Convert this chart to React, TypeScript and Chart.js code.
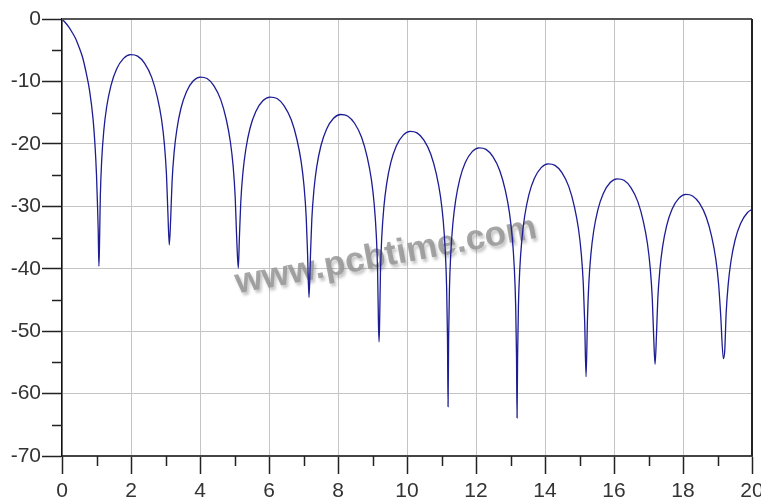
import React, { useEffect, useRef } from "react";
import { Chart, registerables } from "chart.js";

Chart.register(...registerables);

// x values (frequency axis, 0..20)
const FREQ: number[] = [
  0, 0.1, 0.2, 0.3, 0.4, 0.5, 0.6, 0.7, 0.8, 0.9, 0.96, 1.0, 1.03, 1.05, 1.07,
  1.086, 1.111, 1.152, 1.213, 1.294, 1.417, 1.58, 1.784, 1.988, 2.192, 2.396, 2.6, 2.763, 2.886, 2.967, 3.028, 3.069,
  3.11,
  3.15, 3.19, 3.249, 3.329, 3.448, 3.608, 3.807, 4.006, 4.205, 4.404, 4.603, 4.762, 4.881, 4.961, 5.02, 5.06,
  5.11,
  5.141, 5.182, 5.244, 5.327, 5.45, 5.615, 5.821, 6.027, 6.233, 6.439, 6.645, 6.81, 6.933, 7.016, 7.078, 7.119,
  7.16,
  7.201, 7.241, 7.302, 7.383, 7.505, 7.668, 7.871, 8.074, 8.277, 8.48, 8.683, 8.845, 8.967, 9.048, 9.109, 9.149, 9.172,
  9.19,
  9.206, 9.23, 9.27, 9.33, 9.41, 9.53, 9.69, 9.89, 10.09, 10.29, 10.49, 10.69, 10.85, 10.97, 11.05, 11.11, 11.15, 11.174,
  11.19,
  11.206, 11.23, 11.27, 11.33, 11.41, 11.53, 11.69, 11.89, 12.09, 12.29, 12.49, 12.69, 12.85, 12.97, 13.05, 13.11, 13.15, 13.174,
  13.19,
  13.206, 13.23, 13.27, 13.33, 13.41, 13.53, 13.69, 13.89, 14.09, 14.29, 14.49, 14.69, 14.85, 14.97, 15.05, 15.11, 15.15,
  15.19,
  15.23, 15.27, 15.33, 15.41, 15.53, 15.69, 15.89, 16.09, 16.29, 16.49, 16.69, 16.85, 16.97, 17.05, 17.11, 17.15,
  17.19,
  17.23, 17.269, 17.329, 17.408, 17.527, 17.685, 17.883, 18.081, 18.279, 18.477, 18.675, 18.833, 18.952, 19.031, 19.091,
  19.17,
  19.21, 19.25, 19.31, 19.39, 19.51, 19.67, 19.87, 20.0,
];

// y values (level in dB)
const LEVEL_DB: number[] = [
  0, -0.6, -1.3, -2.2, -3.2, -4.6, -6.2, -8.6, -11.5, -16, -20.5, -25, -30, -34, -39.6,
  -36.4, -28.4, -22.5, -17.8, -14.1, -10.7, -8.05, -6.3, -5.7, -5.94, -7.1, -9.35, -12.5, -16.1, -20.0, -24.9, -31.0,
  -36.2,
  -32.0, -26.1, -21.4, -17.7, -14.3, -11.65, -9.9, -9.3, -9.54, -10.7, -12.95, -16.1, -19.7, -23.6, -28.5, -34.6,
  -39.9,
  -35.2, -29.3, -24.6, -20.9, -17.5, -14.85, -13.1, -12.5, -12.74, -13.9, -16.15, -19.3, -22.9, -26.8, -31.7, -37.8,
  -44.6,
  -38.0, -32.1, -27.4, -23.7, -20.3, -17.65, -15.9, -15.3, -15.54, -16.7, -18.95, -22.1, -25.7, -29.6, -34.5, -40.6, -48.6,
  -51.7,
  -48.7, -40.7, -34.8, -30.1, -26.4, -23.0, -20.35, -18.6, -18.0, -18.24, -19.4, -21.65, -24.8, -28.4, -32.3, -37.2, -43.3, -51.3,
  -62.1,
  -51.35, -43.35, -37.45, -32.75, -29.05, -25.65, -23.0, -21.25, -20.65, -20.89, -22.05, -24.3, -27.45, -31.05, -34.95, -39.85, -45.95, -53.95,
  -63.9,
  -53.9, -45.9, -40.0, -35.3, -31.6, -28.2, -25.55, -23.8, -23.2, -23.44, -24.6, -26.85, -30.0, -33.6, -37.5, -42.4, -48.5,
  -57.3,
  -48.3, -42.4, -37.7, -34.0, -30.6, -27.95, -26.2, -25.6, -25.84, -27.0, -29.25, -32.4, -36.0, -39.9, -44.8, -50.9,
  -55.3,
  -50.8, -44.9, -40.2, -36.5, -33.1, -30.45, -28.7, -28.1, -28.34, -29.5, -31.75, -34.9, -38.5, -42.4, -47.3,
  -54.4,
  -53.1, -47.2, -42.5, -38.8, -35.4, -32.75, -31.0, -30.5,
];

const X_MAJOR_TICKS = [0, 2, 4, 6, 8, 10, 12, 14, 16, 18, 20];
const X_MINOR_TICKS = [1, 3, 5, 7, 9, 11, 13, 15, 17, 19];
const Y_MAJOR_TICKS = [0, -10, -20, -30, -40, -50, -60, -70];
const Y_MINOR_TICKS = [-5, -15, -25, -35, -45, -55, -65];
const WATERMARK_TEXT = "www.pcbtime.com";

const FONT_FAMILY = '"Liberation Sans", Arial, sans-serif';

export default function App() {
  const canvasRef = useRef<HTMLCanvasElement | null>(null);

  useEffect(() => {
    const canvas = canvasRef.current;
    if (!canvas) return;

    const decorPlugin = {
      id: "decor",
      beforeDatasetsDraw(chart: any) {
        const { ctx } = chart;
        ctx.save();
        ctx.translate(386, 256);
        ctx.rotate((-10.5 * Math.PI) / 180);
        ctx.font = `bold 35px ${FONT_FAMILY}`;
        ctx.textAlign = "center";
        ctx.textBaseline = "middle";
        ctx.shadowColor = "rgba(60,60,60,0.35)";
        ctx.shadowOffsetX = 2;
        ctx.shadowOffsetY = 3;
        ctx.shadowBlur = 3;
        ctx.fillStyle = "rgba(150,150,150,0.85)";
        ctx.fillText(WATERMARK_TEXT, 0, 0);
        ctx.restore();
      },
      afterDraw(chart: any) {
        const { ctx, chartArea, scales } = chart;
        const xs = scales.x;
        const ys = scales.y;
        ctx.save();
        ctx.strokeStyle = "#222";
        ctx.lineWidth = 1.5;
        ctx.beginPath();
        for (const v of Y_MINOR_TICKS) {
          const py = Math.round(ys.getPixelForValue(v)) + 0.5;
          ctx.moveTo(chartArea.left - 10, py);
          ctx.lineTo(chartArea.left, py);
        }
        for (const v of X_MINOR_TICKS) {
          const px = Math.round(xs.getPixelForValue(v)) + 0.5;
          ctx.moveTo(px, chartArea.bottom);
          ctx.lineTo(px, chartArea.bottom + 10);
        }
        ctx.stroke();
        // top and right frame
        ctx.strokeStyle = "#555";
        ctx.lineWidth = 2;
        ctx.beginPath();
        ctx.moveTo(chartArea.left, chartArea.top);
        ctx.lineTo(chartArea.right, chartArea.top);
        ctx.stroke();
        ctx.strokeStyle = "#222";
        ctx.beginPath();
        ctx.moveTo(chartArea.right, chartArea.top);
        ctx.lineTo(chartArea.right, chartArea.bottom);
        ctx.stroke();
        ctx.restore();
      },
    };

    const tickFont = { family: FONT_FAMILY, size: 21 };

    const chart = new Chart(canvas, {
      type: "line",
      data: {
        datasets: [
          {
            data: FREQ.map((x, i) => ({ x, y: LEVEL_DB[i] })),
            borderColor: "#1c1c94",
            borderWidth: 1.3,
            pointRadius: 0,
            fill: false,
            cubicInterpolationMode: "monotone",
          },
        ],
      },
      options: {
        animation: false,
        responsive: false,
        maintainAspectRatio: false,
        layout: { padding: { top: 19, right: 9, left: 0, bottom: 0 } },
        plugins: {
          legend: { display: false },
          tooltip: { enabled: false },
        },
        scales: {
          x: {
            type: "linear",
            min: 0,
            max: 20,
            afterBuildTicks: (s: any) => {
              s.ticks = X_MAJOR_TICKS.map((v) => ({ value: v }));
            },
            afterFit: (s: any) => {
              s.height = 44;
              s.paddingLeft = 0;
              s.paddingRight = 0;
            },
            ticks: {
              font: tickFont,
              color: "#333",
              padding: 5,
              maxRotation: 0,
              autoSkip: false,
            },
            grid: {
              color: "#c4c4c4",
              lineWidth: 1,
              tickLength: 18,
              tickColor: "#222",
              tickWidth: 1.5,
            },
            border: { color: "#444", width: 2 },
          },
          y: {
            type: "linear",
            min: -70,
            max: 0,
            afterBuildTicks: (s: any) => {
              s.ticks = Y_MAJOR_TICKS.map((v) => ({ value: v }));
            },
            afterFit: (s: any) => {
              s.width = 62;
              s.paddingTop = 0;
              s.paddingBottom = 0;
            },
            ticks: {
              font: tickFont,
              color: "#333",
              padding: 1,
              autoSkip: false,
            },
            grid: {
              color: "#c4c4c4",
              lineWidth: 1,
              tickLength: 20,
              tickColor: "#222",
              tickWidth: 1.5,
            },
            border: { color: "#111", width: 1.5 },
          },
        },
      },
      plugins: [decorPlugin],
    } as any);

    return () => chart.destroy();
  }, []);

  return (
    <div
      style={{
        position: "fixed",
        left: 0,
        top: 0,
        width: 761,
        height: 500,
        background: "#fff",
      }}
    >
      <canvas ref={canvasRef} width={761} height={500} style={{ display: "block" }} />
    </div>
  );
}
